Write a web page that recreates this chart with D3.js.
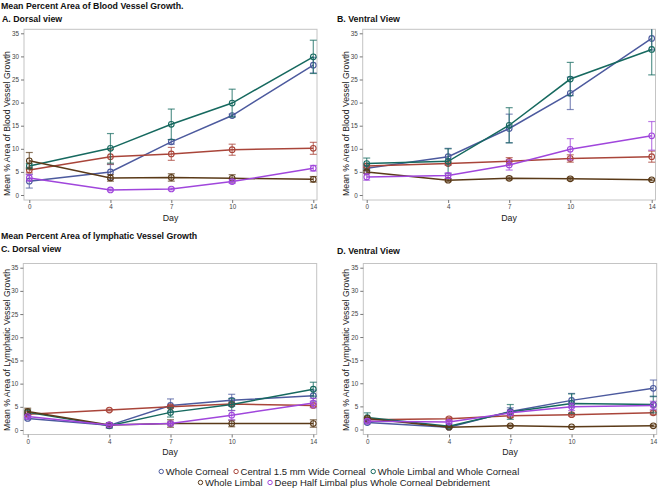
<!DOCTYPE html>
<html><head><meta charset="utf-8">
<script src="https://cdn.jsdelivr.net/npm/d3@7"></script>
<style>
body{margin:0;background:#fff;}
svg{display:block;font-family:"Liberation Sans",Arial,sans-serif;}
</style></head>
<body><svg id="c" width="659" height="492"></svg>
<script>
const days = [0, 4, 7, 10, 14];
const yTicks = [0, 5, 10, 15, 20, 25, 30, 35];
const seriesNames = ["Whole Corneal", "Central 1.5 mm Wide Corneal", "Whole Limbal and Whole Corneal", "Whole Limbal", "Deep Half Limbal plus Whole Corneal Debridement"];
const seriesColors = ["#4c5a9e", "#a9453a", "#16695f", "#5a3a18", "#a046dc"];

// Panel A: Dorsal blood vessel
const aMean = [[3.0,5.0,11.5,17.2,28.1],[5.4,8.3,8.9,9.8,10.1],[6.3,10.1,15.3,19.9,29.9],[7.4,3.7,3.8,3.6,3.4],[3.7,1.1,1.3,2.9,5.8]];
const aErr  = [[1.5,1.6,0.5,0.3,1.7],[0.6,1.6,1.4,1.2,1.3],[0.5,3.2,3.3,3.0,3.6],[1.8,0.7,0.8,0.8,0.6],[0.7,0.2,0.2,0.4,0.6]];
// Panel B: Ventral blood vessel
const bMean = [[5.8,8.3,14.4,22.0,33.9],[6.3,6.8,7.3,7.9,8.3],[6.8,7.3,15.1,25.1,31.5],[5.0,3.2,3.6,3.5,3.3],[3.9,4.2,6.5,9.9,12.8]];
const bErr  = [[0.5,1.8,3.1,3.5,2.5],[0.4,0.3,0.8,0.8,1.2],[1.2,2.7,3.8,3.6,5.5],[0.3,0.3,0.3,0.3,0.2],[0.7,0.6,1.1,2.3,3.1]];
// Panel C: Dorsal lymphatic vessel
const cMean = [[2.5,1.0,5.3,6.4,7.4],[3.4,4.3,5.0,5.6,5.3],[3.8,0.9,3.8,5.5,8.8],[4.0,1.1,1.4,1.4,1.4],[2.9,1.1,1.4,3.2,5.8]];
const cErr  = [[0.3,0.6,1.4,1.3,1.2],[0.2,0.2,0.3,0.3,0.3],[0.5,0.4,1.0,1.3,1.5],[0.7,0.3,0.8,0.7,0.8],[0.3,0.2,0.3,1.0,1.0]];
// Panel D: Ventral lymphatic vessel
const dMean = [[1.5,0.5,3.9,6.3,8.9],[2.1,2.3,3.0,3.2,3.6],[2.6,0.7,3.8,5.6,5.4],[2.4,0.5,0.8,0.6,0.8],[1.8,1.6,3.6,4.9,5.2]];
const dErr  = [[0.3,0.2,0.8,1.5,1.8],[0.3,0.3,0.4,0.3,0.4],[1.0,0.3,1.6,2.1,1.8],[0.2,0.1,0.2,0.1,0.2],[0.3,0.3,0.6,0.8,0.9]];

const svg = d3.select("#c");

const panels = [
  {mean:aMean, err:aErr, title:"A. Dorsal view", tx:2, ty:21.5, x0:29.3, x1:313.3, y0:195, y1:33.3, fx0:24, fx1:317, fy0:29.3, fy1:200, ylab:"Mean % Area of Blood Vessel Growth", lx:10, ly:123.5},
  {mean:bMean, err:bErr, title:"B. Ventral View", tx:337, ty:21.5, x0:366.7, x1:651.7, y0:195, y1:33.3, fx0:362.7, fx1:655.5, fy0:29.3, fy1:200, ylab:"Mean % Area of Blood Vessel Growth", lx:348.5, ly:123.5},
  {mean:cMean, err:cErr, title:"C. Dorsal view", tx:1, ty:252, x0:27.7, x1:313.3, y0:430, y1:267.7, fx0:23.3, fx1:316.7, fy0:263.5, fy1:434.5, ylab:"Mean % Area of Lymphatic Vessel Growth", lx:10, ly:350},
  {mean:dMean, err:dErr, title:"D. Ventral View", tx:337, ty:254, x0:367.3, x1:653.3, y0:429.5, y1:267.7, fx0:363.3, fx1:656.7, fy0:263.5, fy1:434.5, ylab:"Mean % Area of Lymphatic Vessel Growth", lx:348.5, ly:350}
];

svg.append("text").attr("x",1).attr("y",8.5).attr("font-size",8.8).attr("font-weight","bold").attr("fill","#111")
  .text("Mean Percent Area of Blood Vessel Growth.");
svg.append("text").attr("x",1).attr("y",238.5).attr("font-size",8.8).attr("font-weight","bold").attr("fill","#111")
  .text("Mean Percent Area of lymphatic Vessel Growth");

panels.forEach(p => {
  const g = svg.append("g");
  const x = d3.scaleLinear().domain([0,14]).range([p.x0,p.x1]);
  const y = d3.scaleLinear().domain([0,35]).range([p.y0,p.y1]);

  g.append("text").attr("x",p.tx).attr("y",p.ty).attr("font-size",8.8).attr("font-weight","bold").attr("fill","#111").text(p.title);

  // frame
  g.append("rect").attr("x",p.fx0).attr("y",p.fy0).attr("width",p.fx1-p.fx0).attr("height",p.fy1-p.fy0)
    .attr("fill","none").attr("stroke","#c4c4c4").attr("stroke-width",1);

  // y axis
  const ya = d3.axisLeft(y).tickValues(yTicks).tickSize(3).tickPadding(2);
  const yg = g.append("g").attr("transform",`translate(${p.fx0},0)`).call(ya);
  yg.select(".domain").remove();
  yg.selectAll(".tick line").attr("stroke","#777");
  yg.selectAll(".tick text").attr("font-size",6.3).attr("fill","#444").attr("font-family","Liberation Sans, Arial, sans-serif");

  // x axis
  const xa = d3.axisBottom(x).tickValues(days).tickSize(3).tickPadding(2);
  const xg = g.append("g").attr("transform",`translate(0,${p.fy1})`).call(xa);
  xg.select(".domain").remove();
  xg.selectAll(".tick line").attr("stroke","#777");
  xg.selectAll(".tick text").attr("font-size",6.3).attr("fill","#444").attr("font-family","Liberation Sans, Arial, sans-serif");

  g.append("text").attr("x",(p.fx0+p.fx1)/2).attr("y",p.fy1+20.5).attr("text-anchor","middle")
    .attr("font-size",8.8).attr("fill","#222").text("Day");

  g.append("text").attr("transform",`translate(${p.lx},${p.ly}) rotate(-90)`).attr("text-anchor","middle")
    .attr("font-size",8.7).attr("fill","#222").text(p.ylab);

  const line = d3.line().x((d,i)=>x(days[i])).y(d=>y(d));
  p.mean.forEach((vals,s) => {
    const col = seriesColors[s];
    const sg = g.append("g");
    // error bars
    vals.forEach((v,i) => {
      const e = p.err[s][i];
      const cx = x(days[i]);
      const top = Math.max(y(v+e), p.fy0);
      sg.append("line").attr("x1",cx).attr("x2",cx).attr("y1",y(v-e)).attr("y2",top)
        .attr("stroke",col).attr("stroke-opacity",0.7).attr("stroke-width",1.2);
      [v-e, v+e].forEach(b => {
        if (y(b) < p.fy0) return;
        sg.append("line").attr("x1",cx-3.5).attr("x2",cx+3.5).attr("y1",y(b)).attr("y2",y(b))
          .attr("stroke",col).attr("stroke-opacity",0.7).attr("stroke-width",1.2);
      });
    });
    sg.append("path").datum(vals).attr("d",line).attr("fill","none").attr("stroke",col).attr("stroke-width",1.5);
    sg.selectAll("circle").data(vals).join("circle")
      .attr("cx",(d,i)=>x(days[i])).attr("cy",d=>y(d)).attr("r",2.8)
      .attr("fill","none").attr("stroke",col).attr("stroke-width",1.1);
  });
});

// legend
const rows = [[0,1,2],[3,4]];
const rowY = [471.5, 482.5];
const rowCenter = [339, 344];
rows.forEach((r,ri) => {
  const lg = svg.append("g");
  let cx = 0;
  r.forEach(si => {
    const it = lg.append("g");
    it.append("circle").attr("cx",cx+2.5).attr("cy",0).attr("r",2.2).attr("fill","none")
      .attr("stroke",seriesColors[si]).attr("stroke-width",1);
    const t = it.append("text").attr("x",cx+7).attr("y",3.4).attr("font-size",9.5).attr("fill","#222").text(seriesNames[si]);
    cx += 7 + t.node().getComputedTextLength() + 5;
  });
  const w = cx - 5;
  lg.attr("transform",`translate(${rowCenter[ri] - w/2},${rowY[ri]})`);
});
</script></body></html>
